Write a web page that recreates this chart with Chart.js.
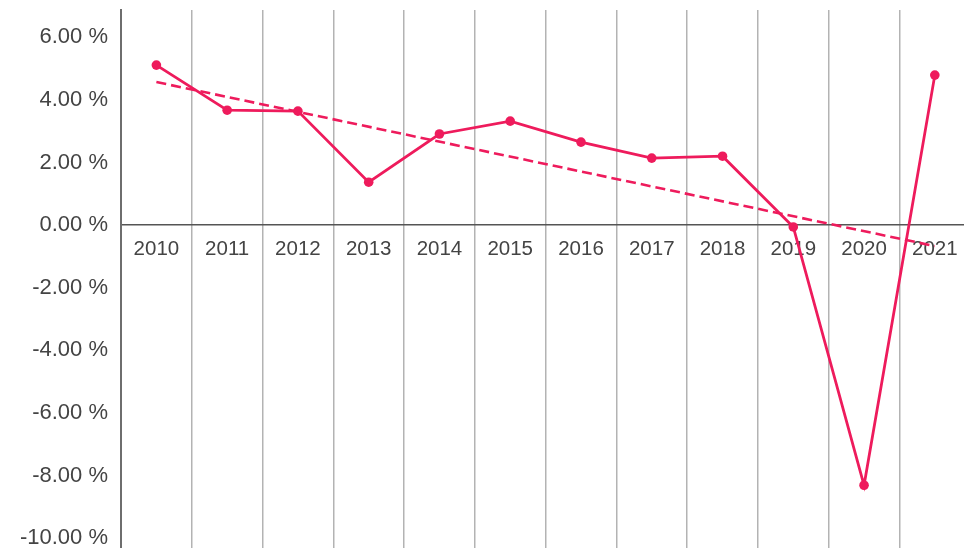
<!DOCTYPE html>
<html>
<head>
<meta charset="utf-8">
<script src="https://cdn.jsdelivr.net/npm/chart.js@4"></script>
<style>
  html, body { margin: 0; padding: 0; overflow: hidden; background: #fff; }
  #wrap { width: 975px; height: 553px; position: relative; }
</style>
</head>
<body>
<div id="wrap"><canvas id="c"></canvas></div>
<script>
const categories = ['2010','2011','2012','2013','2014','2015','2016','2017','2018','2019','2020','2021'];
const growthValues = [5.11, 3.67, 3.64, 1.37, 2.91, 3.32, 2.65, 2.14, 2.20, -0.06, -8.31, 4.79];
const trendValues = [4.57, null, null, null, null, null, null, null, null, null, null, -0.67];
const yTickValues = [-10, -8, -6, -4, -2, 0, 2, 4, 6];

const RED = '#ee1b5c';
const FONT = '"Liberation Sans", Arial, Helvetica, sans-serif';

new Chart(document.getElementById('c'), {
  type: 'line',
  data: {
    labels: categories,
    datasets: [
      {
        data: growthValues,
        borderColor: RED,
        backgroundColor: RED,
        borderWidth: 2.8,
        pointRadius: 4.8,
        pointHoverRadius: 4.8,
        pointBorderWidth: 0,
        tension: 0,
        order: 1
      },
      {
        data: trendValues,
        borderColor: RED,
        backgroundColor: RED,
        borderWidth: 2.6,
        borderDash: [10, 5],
        pointRadius: 0,
        spanGaps: true,
        tension: 0,
        order: 2
      }
    ]
  },
  options: {
    responsive: true,
    maintainAspectRatio: false,
    animation: false,
    layout: { padding: { top: 10, right: 2.5, bottom: 0.5, left: 0 } },
    plugins: { legend: { display: false }, tooltip: { enabled: false } },
    scales: {
      x: {
        type: 'category',
        position: { y: 0 },
        offset: true,
        afterFit: (scale) => { scale.paddingLeft = 0; scale.paddingRight = 0; },
        grid: { display: true, offset: true, color: '#b3b3b3', lineWidth: 1.5, drawTicks: false },
        border: { display: true, color: '#555', width: 1.5 },
        ticks: { color: '#444', font: { family: FONT, size: 20.5 }, padding: 12, maxRotation: 0, autoSkip: false }
      },
      y: {
        min: -10.32,
        max: 6.87,
        afterBuildTicks: (scale) => { scale.ticks = yTickValues.map(v => ({ value: v })); },
        afterFit: (scale) => { scale.width = 121; scale.paddingTop = 0; scale.paddingBottom = 0; },
        grid: { display: false, drawTicks: false },
        border: { display: true, color: '#6e6e6e', width: 2 },
        ticks: {
          color: '#444',
          font: { family: FONT, size: 22 },
          padding: 13,
          callback: (v) => Number(v).toFixed(2) + ' %'
        }
      }
    }
  }
});
</script>
</body>
</html>
